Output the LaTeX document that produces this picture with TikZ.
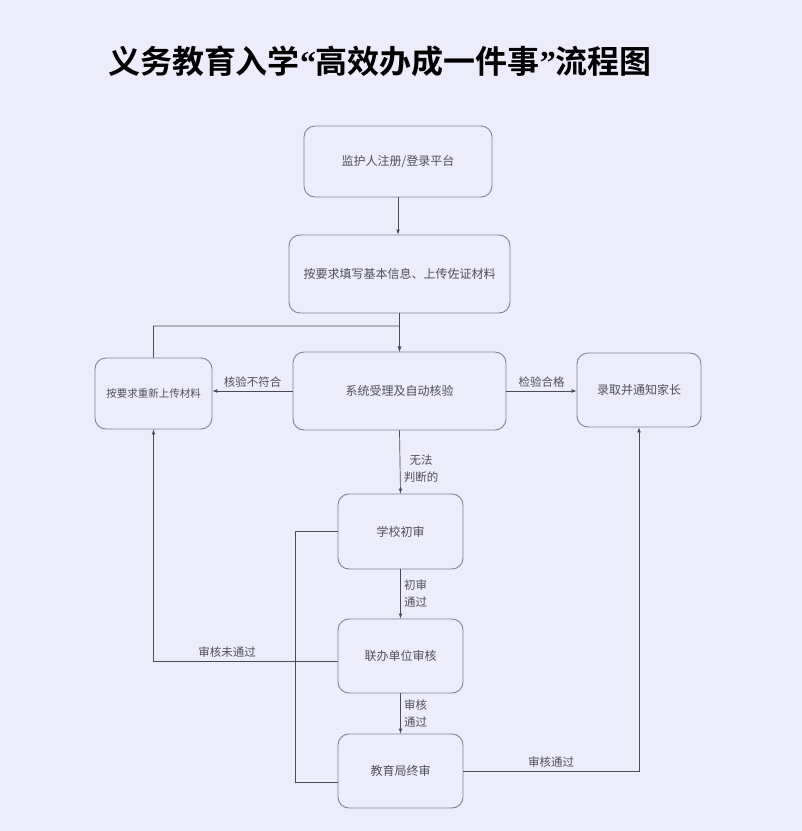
\documentclass[tikz,border=0pt]{standalone}
\usepackage{fontspec}
\usepackage{tikz}
\usetikzlibrary{calc}
\newfontfamily\cjk[BoldFont={Noto Sans CJK SC Bold}]{Noto Sans CJK SC}
\newfontfamily\qfont{Liberation Serif}
\definecolor{bgcol}{RGB}{236,236,251}
\definecolor{boxline}{RGB}{125,130,160}
\definecolor{txt}{RGB}{80,80,85}
\definecolor{wire}{RGB}{75,75,85}
\tikzset{
  box/.style={draw=boxline,line width=0.9pt,rounded corners=11pt,text=txt,align=center,
    font=\cjk\fontsize{12}{14}\selectfont},
  lbl/.style={text=txt,align=center,font=\cjk\fontsize{11.5}{17}\selectfont},
  wire/.style={draw=wire,line width=0.7pt}
}

\begin{document}
\begin{tikzpicture}[x=1pt,y=-1pt]
      \fill[bgcol] (0,0) rectangle (802,831);
      \useasboundingbox (0,0) rectangle (802,831);
      \node[font=\cjk\bfseries\fontsize{32}{36}\selectfont] (title) at (380,61) {义务教育入学{\qfont\bfseries “}高效办成一件事{\qfont\bfseries ”}流程图};
      \node[box,minimum width=188pt,minimum height=71pt] (reg) at (398,161.5) {监护人注册/登录平台};
      \node[box,minimum width=221pt,minimum height=78pt] (fill) at (399.5,274) {按要求填写基本信息、上传佐证材料};
      \node[box,minimum width=213pt,minimum height=78pt] (sys) at (399.5,391) {系统受理及自动核验};
      \node[box,minimum width=117pt,minimum height=71pt,font=\cjk\fontsize{10.5}{12}\selectfont] (redo) at (153.5,393.5) {按要求重新上传材料};
      \node[box,minimum width=124pt,minimum height=74pt] (ok) at (639,390) {录取并通知家长};
      \node[box,minimum width=125pt,minimum height=75pt] (school) at (400.5,531.5) {学校初审};
      \node[box,minimum width=125pt,minimum height=74pt] (joint) at (400.5,656) {联办单位审核};
      \node[box,minimum width=125pt,minimum height=74pt] (final) at (400.5,771) {教育局终审};
      \coordinate (turn) at ($(fill.south)!0.33!(sys.north)$);
      \coordinate (loop) at ($(school.west)+(-42,0)$);
      \coordinate (fin) at ($(final.west)+(0,11)$);
      \coordinate (jout) at ($(joint.west)+(0,5)$);
      \draw[wire,-latex] (reg.south) -- (reg.south |- fill.north);
      \draw[wire,-latex] (fill.south) -- (sys.north);
      \draw[wire,-latex] (redo.north) |- (turn) -- (sys.north);
      \draw[wire,-latex] (sys.west) -- (sys.west -| redo.east) node[lbl,midway,above] {核验不符合};
      \draw[wire,-latex] (sys.east) -- (sys.east -| ok.west) node[lbl,midway,above] {检验合格};
      \draw[wire,-latex] (sys.south) -- (school.north) node[lbl,pos=0.6,right] {无法\\判断的};
      \draw[wire,-latex] (school.south) -- (joint.north) node[lbl,pos=0.5,right] {初审\\通过};
      \draw[wire,-latex] (joint.south) -- (final.north) node[lbl,pos=0.5,right] {审核\\通过};
      \draw[wire,-latex] (jout) -| (redo.south) node[lbl,pos=0.3,above] {审核未通过};
      \draw[wire] (school.west) -- (loop) |- (fin);
      \draw[wire,-latex] (final.east) -| (ok.south) node[lbl,pos=0.25,above] {审核通过};
    \end{tikzpicture}
\end{document}
